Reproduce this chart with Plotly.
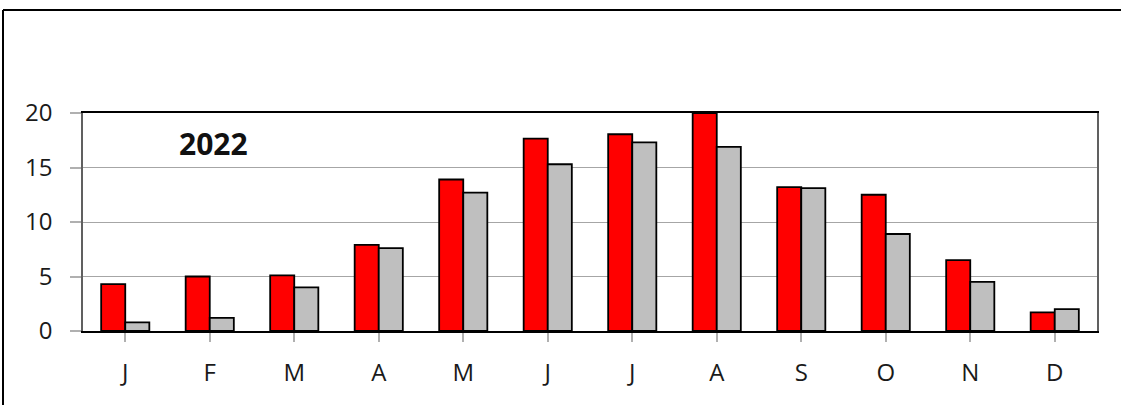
import plotly.graph_objects as go

months = ["J", "F", "M", "A", "M", "J", "J", "A", "S", "O", "N", "D"]
cats = list(range(12))
red_vals = [4.3, 5.0, 5.1, 7.9, 13.9, 17.65, 18.05, 20.0, 13.2, 12.5, 6.5, 1.7]
gray_vals = [0.8, 1.2, 4.0, 7.6, 12.7, 15.3, 17.3, 16.9, 13.1, 8.9, 4.5, 2.0]
y_ticks = [0, 5, 10, 15, 20]
year_label = "2022"

fig = go.Figure()
fig.add_trace(go.Bar(x=cats, y=red_vals, marker=dict(color="#ff0000", line=dict(color="black", width=1.8)), name="a"))
fig.add_trace(go.Bar(x=cats, y=gray_vals, marker=dict(color="#bfbfbf", line=dict(color="black", width=1.8)), name="b"))

L, R, T, B = 83, 24, 113, 74
FONT = "Open Sans, Liberation Sans, sans-serif"
fig.update_layout(
    width=1121, height=405,
    margin=dict(l=L, r=R, t=T, b=B, autoexpand=False),
    paper_bgcolor="white", plot_bgcolor="white",
    barmode="group", bargap=0.43, bargroupgap=0,
    showlegend=False,
    font=dict(family=FONT, color="#1a1a1a"),
)
fig.update_xaxes(
    tickmode="array", tickvals=cats, ticktext=months,
    range=[-0.5, 11.5], automargin=False,
    tickson="boundaries", ticks="outside", ticklen=9, tickcolor="#b0b0b0", tickwidth=1.5,
    ticklabelstandoff=10,
    tickfont=dict(size=24, color="#1a1a1a"),
    showline=True, linecolor="black", linewidth=2, mirror=True,
    showgrid=False, zeroline=False,
)
fig.update_yaxes(
    range=[0, 20], tickvals=y_ticks, automargin=False,
    ticks="outside", ticklen=11, tickcolor="#b0b0b0", tickwidth=1.5,
    ticklabelstandoff=13,
    tickfont=dict(size=24, color="#1a1a1a"),
    showline=True, linecolor="#606060", linewidth=1.5, mirror=True,
    showgrid=True, gridcolor="#a6a6a6", gridwidth=1, zeroline=False,
)

pw = 1121 - L - R
ph = 405 - T - B
fig.add_annotation(
    text="<b>" + year_label + "</b>", xref="paper", yref="paper",
    x=(213 - L) / pw, y=(405 - B - 143) / ph, showarrow=False,
    font=dict(size=30, color="#111", family=FONT),
    xanchor="center", yanchor="middle",
)
# outer frame (top and left visible)
fig.add_shape(type="line", xref="paper", yref="paper",
              x0=(3 - L) / pw, x1=(1125 - L) / pw, y0=(405 - B - 10) / ph, y1=(405 - B - 10) / ph,
              line=dict(color="black", width=2))
fig.add_shape(type="line", xref="paper", yref="paper",
              x0=(3 - L) / pw, x1=(3 - L) / pw, y0=(405 - B - 10) / ph, y1=(405 - B - 410) / ph,
              line=dict(color="black", width=2))

fig.write_html("out.html", config={"displayModeBar": False},
               post_script="document.body.style.margin='0';document.body.style.overflow='hidden';")
